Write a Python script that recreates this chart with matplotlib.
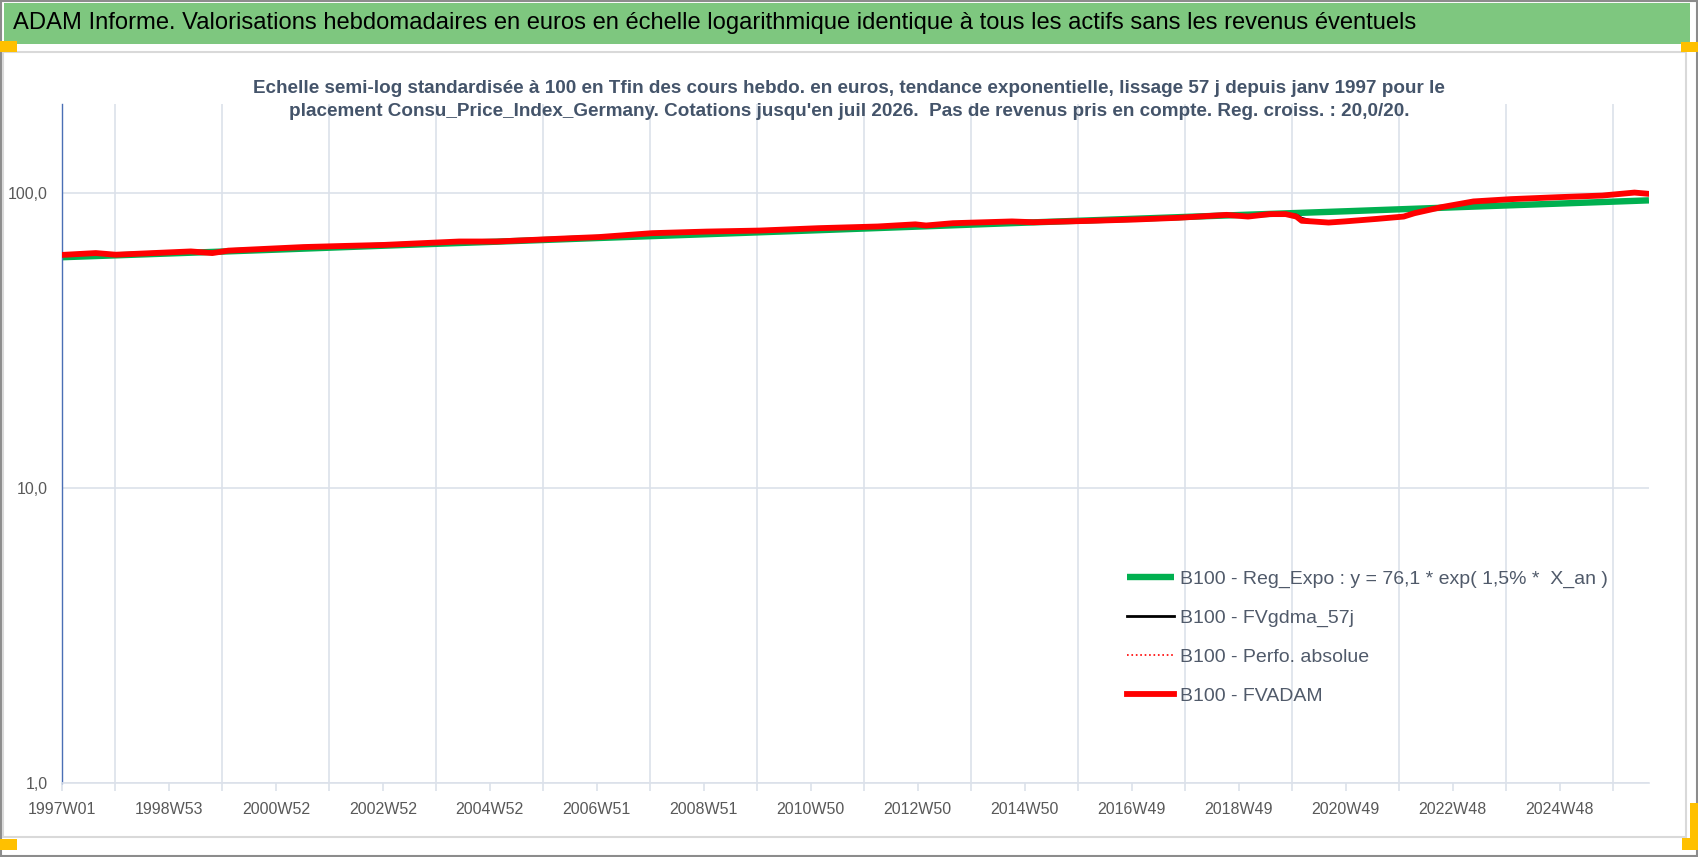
import numpy as np
import matplotlib.pyplot as plt
from matplotlib.patches import Rectangle

W, H = 1698, 857
plt.rcParams['font.family'] = ['Liberation Sans', 'DejaVu Sans']

title = ("ADAM Informe. Valorisations hebdomadaires en euros en échelle logarithmique "
         "identique à tous les actifs sans les revenus éventuels")
subtitle = ("Echelle semi-log standardisée à 100 en Tfin des cours hebdo. en euros, tendance exponentielle, "
            "lissage 57 j depuis janv 1997 pour le\n"
            "placement Consu_Price_Index_Germany. Cotations jusqu'en juil 2026.  Pas de revenus pris en compte. "
            "Reg. croiss. : 20,0/20.")

# axe des catégories (semaines)
tick_labels = ["1997W01", "1998W53", "2000W52", "2002W52", "2004W52", "2006W51", "2008W51",
               "2010W50", "2012W50", "2014W50", "2016W49", "2018W49", "2020W49", "2022W48", "2024W48"]
n_weeks = 1544
weeks_per_year = 52.18

# B100 - Reg_Expo
green_years = [1997, 1999, 2001, 2003, 2005, 2007, 2009, 2011, 2013, 2015,
               2017, 2019, 2021, 2023, 2025, 2026.57]
green_values = [60.5, 62.3, 64.2, 66.2, 68.2, 70.3, 72.4, 74.6, 76.9, 79.3,
                81.7, 84.2, 86.7, 89.4, 92.1, 94.3]

# B100 - FVADAM
red_years = [1997.0, 1997.63, 1998.0, 1998.7, 1999.4, 1999.8, 2000.1, 2000.8, 2001.5, 2002.3,
             2003.0, 2003.7, 2004.4, 2005.1, 2005.8, 2006.5, 2007.0, 2008.0, 2009.0, 2010.0,
             2011.1, 2012.2, 2012.9, 2013.1, 2013.6, 2014.7, 2015.1, 2016.1, 2017.0, 2017.8,
             2018.7, 2019.1, 2019.5, 2019.8, 2020.0, 2020.1, 2020.3, 2020.6, 2020.9, 2021.5,
             2022.0, 2022.2, 2022.7, 2023.3, 2024.0, 2024.9, 2025.7, 2026.3, 2026.57]
red_values = [61.6, 62.5, 61.7, 62.5, 63.3, 62.5, 63.7, 64.6, 65.5, 66.1,
              66.6, 67.5, 68.4, 68.4, 69.3, 70.2, 70.8, 73.0, 73.9, 74.5,
              75.9, 76.9, 78.2, 77.5, 78.9, 80.0, 79.5, 80.3, 81.2, 82.3,
              84.2, 83.1, 84.7, 84.7, 83.1, 80.4, 80.0, 79.3, 80.0, 81.6,
              83.1, 85.3, 89.4, 93.5, 95.2, 96.7, 97.9, 100.2, 99.2]
# B100 - FVgdma_57j (lissée, cachée sous FVADAM sauf vers 2020)
black_values = [61.6, 62.3, 61.9, 62.5, 63.2, 62.7, 63.6, 64.6, 65.5, 66.1,
                66.6, 67.5, 68.3, 68.5, 69.3, 70.2, 70.8, 72.9, 73.9, 74.5,
                75.9, 76.9, 78.1, 77.6, 78.8, 80.0, 79.6, 80.3, 81.2, 82.3,
                84.1, 83.3, 84.6, 84.7, 84.0, 82.0, 80.2, 79.4, 80.0, 81.5,
                83.1, 85.2, 89.3, 93.4, 95.2, 96.7, 97.9, 100.0, 99.4]


def to_week(years):
    return (np.asarray(years) - 1997) * weeks_per_year


def fig_rect(fig, x0, y0, x1, y1, **kw):
    # coordonnées en pixels, origine en haut à gauche
    fig.add_artist(Rectangle((x0 / W, 1 - y1 / H), (x1 - x0) / W, (y1 - y0) / H,
                             transform=fig.transFigure, **kw))


fig = plt.figure(figsize=(W / 100, H / 100), dpi=100)
fig.patch.set_facecolor('white')

# cadre, bandeau et coins
fig_rect(fig, 1, 1, W - 1, H - 1, fill=False, edgecolor='#8C8C8C', lw=1.5)
fig_rect(fig, 3, 52, 1686, 837, fill=False, edgecolor='#D9D9D9', lw=1.5)
fig_rect(fig, 4, 3, 1690, 44, facecolor='#7EC77F', edgecolor='none')
orange = '#FFC000'
fig_rect(fig, 0, 41, 17, 52, facecolor=orange, edgecolor='none')
fig_rect(fig, 1681, 42, 1698, 52, facecolor=orange, edgecolor='none')
fig_rect(fig, 0, 839, 17, 850, facecolor=orange, edgecolor='none')
fig_rect(fig, 1690, 803, 1698, 850, facecolor=orange, edgecolor='none')
fig_rect(fig, 1682, 838, 1698, 850, facecolor=orange, edgecolor='none')

fig.text(13 / W, 1 - 23 / H, title, fontsize=17.1, color='black', ha='left', va='center')
fig.text(849 / W, 1 - 100 / H, subtitle, fontsize=13.6, fontweight='bold', color='#44546A',
         ha='center', va='center', multialignment='center', linespacing=1.45)

# zone de tracé
ax = fig.add_axes([62 / W, 74 / H, (1649 - 62) / W, (783 - 104) / H])
ax.set_yscale('log')
ax.set_ylim(1, 200)
ax.set_xlim(0, n_weeks - 1)

ax.plot(to_week(green_years), green_values, color='#00B050', lw=4.6, solid_capstyle='butt',
        label='B100 - Reg_Expo : y = 76,1 * exp( 1,5% *  X_an )', zorder=2)
ax.plot(to_week(red_years), black_values, color='black', lw=2.0,
        label='B100 - FVgdma_57j', zorder=3)
ax.plot(to_week(red_years), red_values, color='red', lw=1.2, ls=':',
        label='B100 - Perfo. absolue', zorder=4)
ax.plot(to_week(red_years), red_values, color='red', lw=4.2,
        label='B100 - FVADAM', zorder=5)

ax.set_yticks([1, 10, 100])
ax.set_yticklabels(['1,0', '10,0', '100,0'])
ax.yaxis.set_minor_locator(plt.NullLocator())
ax.set_xticks(np.arange(len(tick_labels)) * 104)
ax.set_xticklabels(tick_labels)
ax.set_xticks(np.arange(0, n_weeks, 52), minor=True)

grid_col = '#DCE1EA'
ax.grid(True, axis='y', which='major', color=grid_col, lw=1.2)
ax.grid(True, axis='x', which='minor', color=grid_col, lw=1.2)
ax.set_axisbelow(True)
ax.tick_params(axis='x', which='both', length=6, width=1.2, color=grid_col, direction='out',
               labelsize=11.5, labelcolor='#595959', pad=8)
ax.tick_params(axis='y', which='both', length=0, labelsize=11.5, labelcolor='#595959', pad=10)

for s in ['top', 'right']:
    ax.spines[s].set_visible(False)
ax.spines['bottom'].set_color(grid_col)
ax.spines['bottom'].set_linewidth(1.2)
ax.spines['left'].set_color('#4A6FB5')
ax.spines['left'].set_linewidth(1.0)

leg = ax.legend(loc='upper left', bbox_to_anchor=(1127 / W, 1 - 570 / H),
                bbox_transform=fig.transFigure, frameon=False, fontsize=14,
                handlelength=2.4, handletextpad=0.3, labelspacing=1.1,
                borderpad=0, borderaxespad=0)
for t in leg.get_texts():
    t.set_color('#505A6A')

fig.savefig('out.png', dpi=100)
